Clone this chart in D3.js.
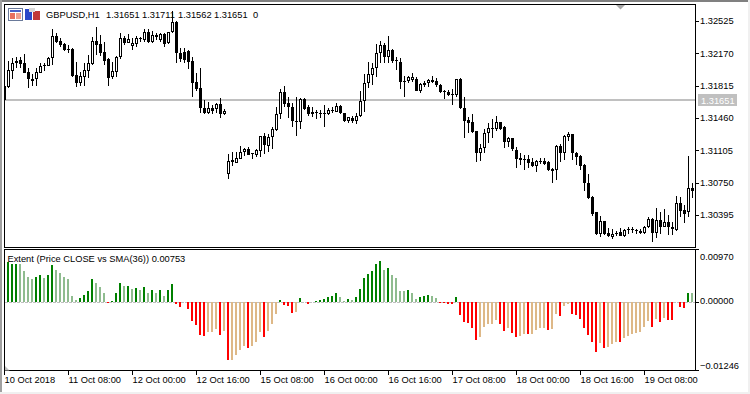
<!DOCTYPE html>
<html>
<head>
<meta charset="utf-8">
<script src="https://cdn.jsdelivr.net/npm/d3@7"></script>
<style>
  html, body { margin: 0; padding: 0; background: #fff; }
  svg { display: block; }
  text { font-family: "Liberation Sans", sans-serif; font-size: 9.3px; fill: #000; }
</style>
</head>
<body>
<svg id="chart" width="750" height="394"></svg>
<script>
// prices are kept as points above 1.30000
const opens = [1812,1804,1980,2061,2097,2061,1965,1885,1892,1958,2039,2035,2116,2361,2309,2270,2215,2218,1932,1848,1914,1980,2053,2306,2270,2182,2105,1907,1969,2127,2335,2287,2254,2276,2335,2317,2405,2298,2372,2317,2383,2281,2401,2518,2177,2188,2196,2086,1852,1786,1567,1512,1573,1556,1614,1501,842,999,970,1010,1090,1117,1073,1054,1101,1263,1153,1248,1329,1501,1743,1622,1578,1431,1420,1669,1578,1523,1523,1515,1515,1504,1552,1526,1592,1512,1427,1460,1431,1486,1647,1841,1936,2009,2171,2262,2127,2207,2097,2072,1870,1870,1878,1885,1757,1841,1841,1878,1867,1823,1757,1743,1727,1716,1889,1567,1438,1413,1318,1073,1128,1292,1351,1340,1413,1358,1200,1244,1109,1018,1010,1007,981,937,985,988,981,897,886,1156,1079,1255,1285,1079,1043,944,743,590,425,187,329,194,150,201,209,168,238,238,227,220,201,264,351,201,340,267,318,267,231,524,450,425,692];
const highs = [1812,2090,2116,2133,2133,2160,2006,1943,2006,2068,2068,2127,2438,2390,2335,2281,2262,2226,2079,1969,2061,2152,2346,2456,2372,2298,2116,2079,2141,2390,2364,2379,2335,2361,2346,2434,2434,2419,2390,2390,2397,2408,2639,2529,2232,2232,2207,2130,1951,2006,1658,1639,1603,1628,1677,1556,1065,1090,1090,1153,1131,1139,1079,1120,1263,1292,1285,1358,1581,1775,1812,1694,1628,1688,1683,1677,1603,1578,1548,1548,1603,1567,1578,1622,1603,1519,1475,1482,1519,1760,1943,2079,2061,2270,2306,2287,2361,2218,2133,2116,1922,1922,1951,1907,1841,1867,1889,1922,1896,1830,1768,1768,1775,1892,1896,1688,1475,1501,1318,1175,1336,1402,1449,1486,1420,1376,1255,1244,1139,1079,1054,1054,1018,999,1018,1024,992,908,1164,1175,1274,1310,1285,1090,1054,955,842,604,432,384,329,249,238,220,249,242,260,260,242,238,275,370,359,469,432,461,395,322,604,596,505,1043,743];
const lows = [1614,1786,1889,2006,2006,1951,1793,1812,1812,1951,1980,2031,2042,2281,2243,2199,2177,1907,1804,1815,1812,1896,2042,2152,2141,2042,1815,1885,1914,2105,2262,2281,2207,2243,2298,2298,2287,2287,2317,2298,2243,2273,2397,2061,2072,2061,1998,1694,1760,1512,1504,1504,1504,1512,1457,1493,791,933,970,1007,1046,1054,1010,1035,1035,1065,1090,1120,1318,1449,1578,1460,1365,1266,1340,1548,1482,1468,1446,1460,1365,1493,1519,1523,1504,1420,1409,1409,1394,1475,1530,1786,1823,1914,2061,2061,2061,2061,1987,1779,1694,1848,1859,1754,1738,1797,1804,1841,1797,1738,1669,1705,1606,1694,1556,1244,1299,1292,981,992,1079,1189,1237,1321,1329,1128,1145,1101,915,944,889,915,926,864,955,944,882,750,780,981,999,1211,999,944,889,662,571,384,176,157,176,157,132,165,165,157,187,194,187,183,187,256,102,139,187,260,176,176,223,370,304,377,585];
const closes = [1658,1987,2061,2090,2053,1958,1885,1870,1965,2031,2028,2116,2361,2298,2262,2207,2207,1922,1848,1922,1987,2061,2306,2262,2177,2090,1903,1973,2127,2335,2281,2324,2281,2339,2324,2405,2298,2372,2346,2379,2273,2401,2518,2171,2105,2097,2079,1848,1775,1567,1512,1573,1537,1614,1501,1534,992,974,1018,1090,1117,1057,1062,1109,1263,1164,1248,1340,1501,1743,1614,1578,1431,1420,1669,1559,1504,1504,1512,1508,1508,1548,1541,1592,1512,1431,1468,1431,1486,1647,1841,1943,2009,2171,2262,2127,2207,2090,2083,1859,1859,1907,1907,1760,1830,1826,1878,1859,1823,1749,1746,1716,1713,1889,1567,1431,1405,1310,1073,1128,1292,1347,1343,1413,1340,1200,1244,1120,1010,999,1002,970,937,988,977,959,889,882,1156,1079,1263,1285,1073,1035,933,743,579,406,187,329,187,165,183,187,168,231,231,227,220,201,264,351,201,340,267,318,260,238,524,443,406,688,662];

// histogram values in 0.00001 units, tone per bar: G/g above zero, R/r below
const extent = [0,732,702,702,702,561,458,427,458,500,439,500,683,592,531,451,427,116,43,73,134,207,427,354,268,171,-24,24,159,354,287,299,232,262,214,281,159,226,165,226,116,226,336,-31,-98,0,-134,-342,-415,-598,-628,-555,-555,-488,-598,-525,-1055,-1055,-964,-872,-811,-842,-811,-738,-555,-634,-525,-397,-214,43,-49,-67,-195,-177,79,0,-31,0,24,43,61,98,116,171,98,12,61,43,98,244,445,519,573,702,756,592,628,500,445,207,207,226,171,55,98,110,134,116,79,-12,-24,-43,-43,98,-232,-360,-378,-470,-689,-634,-451,-397,-397,-323,-397,-525,-470,-561,-634,-616,-580,-580,-580,-506,-470,-470,-506,-488,-214,-250,-67,-31,-214,-232,-305,-470,-598,-726,-909,-744,-836,-817,-763,-726,-726,-653,-616,-580,-567,-543,-451,-342,-451,-305,-360,-287,-323,-323,0,-85,-104,165,165];
const extentTone = ("GGGGggggGGgGGggggggGGGGgggRGGGgGgGgGgGgGgGGRRR" + "RRRRRrrrRrRrrrrRrrrRrrrGRRRrGRRG" + "GGGGGGggGgGGGGGGGgGggggGggGGGggRRRRGRRRRRrrrrrRRrRRrrRrrrrRrrRrrRRRRRRRrRrrrRrrrrrrrRrRrRRrRRGg").split("");

const priceTicks = [1.32525, 1.32170, 1.31815, 1.31460, 1.31105, 1.30750, 1.30395];
const extentTicks = [0.00970, 0, -0.01246];
const timeLabels = ["10 Oct 2018", "11 Oct 08:00", "12 Oct 00:00", "12 Oct 16:00", "15 Oct 08:00", "16 Oct 00:00", "16 Oct 16:00", "17 Oct 08:00", "18 Oct 00:00", "18 Oct 16:00", "19 Oct 08:00"];
const timeTickIndex = [0, 16, 32, 48, 64, 80, 96, 112, 128, 144, 160];

const lastPrice = 1.31651;
const headerQuote = ["1.31651", "1.31711", "1.31562", "1.31651"];

const svg = d3.select("#chart");
const toneColor = { G: "#008000", g: "#8fbc8f", R: "#ff0000", r: "#deb887" };
const pts = p => 1.3 + p / 1e5;

const x = d3.scaleLinear().domain([0, 1]).range([4, 8]);
const yPrice = d3.scaleLinear().domain([1.30395, 1.32525]).range([215, 21]);
const yExtent = d3.scaleLinear().domain([-0.01246, 0.00970]).range([370, 249]);
const lastY = Math.floor(yPrice(lastPrice));

// window edges
svg.append("rect").attr("width", 750).attr("height", 394).attr("fill", "#fff");
svg.append("rect").attr("width", 750).attr("height", 2).attr("fill", "#808080");
svg.append("rect").attr("width", 2).attr("height", 394).attr("fill", "#a0a0a0");
svg.append("rect").attr("x", 748).attr("width", 2).attr("height", 394).attr("fill", "#f0f0f0");
svg.append("rect").attr("y", 392).attr("width", 750).attr("height", 2).attr("fill", "#f0f0f0");

const defs = svg.append("defs");
defs.append("clipPath").attr("id", "price-clip").append("rect")
  .attr("x", 5).attr("y", 5).attr("width", 690).attr("height", 242);
defs.append("clipPath").attr("id", "extent-clip").append("rect")
  .attr("x", 5).attr("y", 250).attr("width", 690).attr("height", 120);

// price pane
const pricePane = svg.append("g").attr("clip-path", "url(#price-clip)").attr("shape-rendering", "crispEdges");

pricePane.append("rect")
  .attr("x", 5).attr("width", 690)
  .attr("y", lastY - 1).attr("height", 2)
  .attr("fill", "#c0c0c0");

const candles = pricePane.selectAll("g.candle")
  .data(opens.map((o, i) => ({ i, o: pts(o), h: pts(highs[i]), l: pts(lows[i]), c: pts(closes[i]) })))
  .enter().append("g").attr("class", "candle");

candles.append("line")
  .attr("x1", d => x(d.i) + 0.5).attr("x2", d => x(d.i) + 0.5)
  .attr("y1", d => Math.round(yPrice(d.h)))
  .attr("y2", d => Math.round(yPrice(d.l)))
  .attr("stroke", "#000");

candles.append("rect")
  .attr("x", d => d.c >= d.o ? x(d.i) - 0.5 : x(d.i) - 1)
  .attr("width", d => d.c >= d.o ? 2 : 3)
  .attr("y", d => {
    const t = Math.round(yPrice(Math.max(d.o, d.c)));
    return d.c >= d.o ? t + 0.5 : t;
  })
  .attr("height", d => {
    const t = Math.round(yPrice(Math.max(d.o, d.c)));
    const b = Math.round(yPrice(Math.min(d.o, d.c)));
    return d.c >= d.o ? Math.max(b - t - 1, 1) : Math.max(b - t, 1);
  })
  .attr("fill", d => d.c >= d.o ? "#fff" : "#000")
  .attr("stroke", d => d.c >= d.o ? "#000" : "none");

// extent pane
const extentPane = svg.append("g").attr("clip-path", "url(#extent-clip)").attr("shape-rendering", "crispEdges");

extentPane.append("line")
  .attr("x1", 5).attr("x2", 695)
  .attr("y1", yExtent(0) + 0.5).attr("y2", yExtent(0) + 0.5)
  .attr("stroke", "#c0c0c0")
  .attr("stroke-dasharray", "3,1");

extentPane.selectAll("rect.bar")
  .data(extent.map((v, i) => ({ i, v: v / 1e5, tone: extentTone[i] })))
  .enter().append("rect")
    .attr("class", "bar")
    .attr("x", d => x(d.i) - 1)
    .attr("width", 2)
    .attr("y", d => Math.round(yExtent(Math.max(d.v, 0))))
    .attr("height", d => Math.round(Math.abs(yExtent(d.v) - yExtent(0))))
    .attr("fill", d => toneColor[d.tone]);

// pane borders
const frame = svg.append("g").attr("fill", "none").attr("stroke", "#000").attr("shape-rendering", "crispEdges");
frame.append("rect").attr("x", 4.5).attr("y", 4.5).attr("width", 691).attr("height", 243);
frame.append("rect").attr("x", 4.5).attr("y", 249.5).attr("width", 691).attr("height", 121);

// axes
const priceAxis = svg.append("g")
  .attr("transform", "translate(695,0)")
  .attr("shape-rendering", "crispEdges")
  .call(d3.axisRight(yPrice).tickValues(priceTicks).tickFormat(d3.format(".5f")).tickSize(4).tickPadding(1));
priceAxis.select(".domain").remove();

const extentAxis = svg.append("g")
  .attr("transform", "translate(695,0)")
  .attr("shape-rendering", "crispEdges")
  .call(d3.axisRight(yExtent).tickValues(extentTicks).tickFormat(d3.format(".5f")).tickSize(4).tickPadding(1));
extentAxis.select(".domain").remove();
extentAxis.selectAll("text")
  .attr("dy", d => d > 0 ? "1.08em" : d < 0 ? "-0.18em" : "0.2em");

const timeAxis = svg.append("g")
  .attr("transform", "translate(0,370)")
  .attr("shape-rendering", "crispEdges")
  .call(d3.axisBottom(x).tickValues(timeTickIndex).tickFormat((d, i) => timeLabels[i]).tickSize(5).tickPadding(1));
timeAxis.select(".domain").remove();
timeAxis.selectAll("text").attr("text-anchor", "start").attr("x", 0);

svg.selectAll(".tick text").attr("font-family", null).attr("font-size", null);
svg.selectAll("g[font-family]").attr("font-family", null).attr("font-size", null);

// current price tag
svg.append("rect")
  .attr("x", 698).attr("y", lastY - 6)
  .attr("width", 39).attr("height", 12)
  .attr("fill", "#c0c0c0");
svg.append("text")
  .attr("x", 701).attr("y", lastY + 3.5)
  .style("fill", "#fff")
  .text(d3.format(".5f")(lastPrice));

// chart markers
svg.append("path").attr("d", "M616,5h9l-4.5,4.5z").attr("fill", "#a8a8a8");
svg.append("path").attr("d", "M5,366v4.5h4.5z").attr("fill", "#c0c0c0");

// header
const icon = svg.append("g").attr("shape-rendering", "crispEdges");
icon.append("rect").attr("x", 8.5).attr("y", 8.5).attr("width", 14).attr("height", 12).attr("fill", "#fff").attr("stroke", "#6a7a9a");
icon.append("rect").attr("x", 10).attr("y", 10).attr("width", 11).attr("height", 2).attr("fill", "#4a60c8");
icon.append("rect").attr("x", 10).attr("y", 13).attr("width", 5).attr("height", 6).attr("fill", "#e87060");
icon.append("rect").attr("x", 16).attr("y", 13).attr("width", 5).attr("height", 6).attr("fill", "#f0a090");
icon.append("rect").attr("x", 25).attr("y", 9).attr("width", 7).attr("height", 11).attr("fill", "#2a48c8");
icon.append("rect").attr("x", 33).attr("y", 11).attr("width", 7).attr("height", 9).attr("fill", "#c03838");
icon.append("rect").attr("x", 29).attr("y", 8).attr("width", 6).attr("height", 4).attr("fill", "#d8d8d8");

svg.append("text").attr("x", 46).attr("y", 18).text("GBPUSD,H1");
svg.selectAll("text.quote")
  .data(headerQuote)
  .enter().append("text")
    .attr("class", "quote")
    .attr("x", (d, i) => 106 + i * 36)
    .attr("y", 18)
    .text(d => d);
svg.append("text").attr("x", 253).attr("y", 18).text("0");
svg.append("text").attr("x", 7.5).attr("y", 262).text("Extent (Price CLOSE vs SMA(36)) 0.00753");
</script>
</body>
</html>
